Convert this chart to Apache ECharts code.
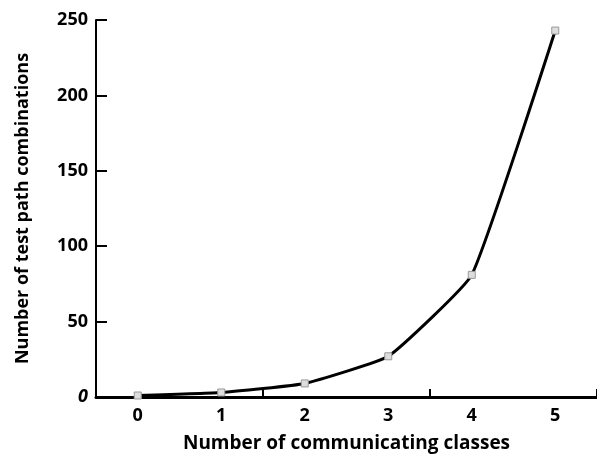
<!DOCTYPE html>
<html><head><meta charset="utf-8">
<script src="https://cdn.jsdelivr.net/npm/echarts@6/dist/echarts.min.js"></script>
<style>html,body{margin:0;padding:0;background:#fff}#c{width:597px;height:464px}</style>
</head><body><div id="c"></div>
<script>
var categories = ['0','1','2','3','4','5'];
var combinations = [1, 3, 9, 27, 81, 243];
var yTicks = [0, 50, 100, 150, 200, 250];

var chart = echarts.init(document.getElementById('c'));
var font = '"Open Sans", "DejaVu Sans", sans-serif';
chart.setOption({
  animation: false,
  backgroundColor: '#fff',
  grid: {left: 96, right: 0, top: 20, bottom: 67, containLabel: false},
  xAxis: {
    type: 'category',
    data: categories,
    boundaryGap: true,
    name: 'Number of communicating classes',
    nameLocation: 'middle',
    nameGap: 37,
    nameTextStyle: {color: '#000', fontSize: 19, fontWeight: 'bold', fontFamily: font},
    axisLine: {lineStyle: {color: '#000', width: 3}},
    axisTick: {show: true, inside: true, length: 8, interval: 1, alignWithLabel: false, lineStyle: {color: '#000', width: 2}},
    axisLabel: {color: '#000', fontSize: 18, fontWeight: 'bold', fontFamily: font, margin: 10},
    splitLine: {show: false}
  },
  yAxis: {
    type: 'value',
    min: yTicks[0], max: yTicks[yTicks.length-1], interval: 50,
    name: 'Number of test path combinations',
    nameLocation: 'middle',
    nameGap: 64,
    nameTextStyle: {color: '#000', fontSize: 18, fontWeight: 'bold', fontFamily: font},
    axisLine: {show: true, lineStyle: {color: '#000', width: 2}},
    axisTick: {show: true, inside: true, length: 11, lineStyle: {color: '#000', width: 2}},
    axisLabel: {color: '#000', fontSize: 18, fontWeight: 'bold', fontFamily: font, margin: 8,
      formatter: function(v){ return v === 0 ? '{i|0}' : String(v); },
      rich: {i: {fontStyle: 'italic', fontSize: 18, fontWeight: 'bold', fontFamily: font, color: '#000'}}},
    splitLine: {show: false}
  },
  series: [{
    type: 'line',
    data: combinations,
    smooth: 0.12,
    symbol: 'rect',
    symbolSize: 7,
    lineStyle: {color: '#000', width: 3},
    itemStyle: {color: '#ddd', borderColor: '#999', borderWidth: 1},
    z: 3
  }]
});
</script></body></html>
